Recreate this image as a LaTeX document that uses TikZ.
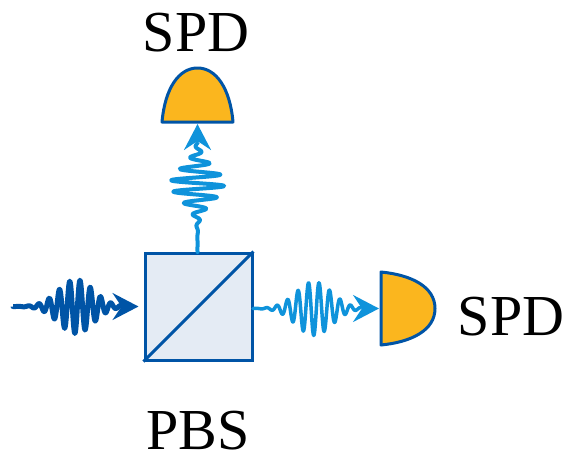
\documentclass[tikz,border=0pt]{standalone}
\usepackage{fontspec}
\setmainfont{Liberation Serif}
\usetikzlibrary{arrows.meta}

\definecolor{darkblue}{HTML}{0054A6}
\definecolor{lightblue}{HTML}{0F93DB}
\definecolor{cubefill}{HTML}{E4EBF4}
\definecolor{detfill}{HTML}{FBB61E}

\tikzset{
	cube/.style={draw=darkblue, fill=cubefill, line width=3pt, minimum size=107pt, inner sep=0pt},
	detector/.style={draw=darkblue, fill=detfill, line width=3pt, line join=round},
	pulse/.style={line width=#1, line join=round},
	head/.style={-{Stealth[inset=9pt, length=26pt, width=27pt]}, line width=3pt},
	label/.style={font=\fontsize{58}{60}\selectfont, inner sep=0pt, anchor=base},
	declare function={packet(\t,\c,\s,\a,\o,\p)=\a*exp(-((\t-\c)/\s)^2/2)*cos(360/\p*(\t-\o));}
}

\begin{document}
\begin{tikzpicture}[x=1pt, y=-1pt]
	\useasboundingbox (0,0) rectangle (569,456);

	\node[cube] (pbs) at (198.5,306.5) {};
	\draw[darkblue, line width=3pt] (pbs.south west) -- (pbs.north east);

	% detectors
	\coordinate (dettop) at (197.5,124);
	\coordinate (detright) at (379,308.5);
	\draw[detector] (162,122) -- (233,122) .. controls (230,88) and (216,68) .. (197.5,68)
		.. controls (179,68) and (165,88) .. (162,122) -- cycle;
	\draw[detector] (381,272) -- (381,345) .. controls (412,342) and (435,330) .. (435,308.5)
		.. controls (435,287) and (412,275) .. (381,272) -- cycle;

	% pulses
	\coordinate (start) at (13,306.5);
	\coordinate (inend) at (124,306.5);
	\coordinate (rightend) at (362,308.5);
	\coordinate (topend) at (197.5,142);

	\draw[darkblue, pulse=5pt] (start) -- plot[domain=13:124, samples=220]
		(\x, {306.5-packet(\x,76,17.5,27,80,10.3)});
	\draw[darkblue, head, shorten >=5pt] (inend) -- (pbs.west);

	\draw[lightblue, pulse=3.5pt] (pbs.east |- detright) -- plot[domain=253:362, samples=220]
		(\x, {308.5-packet(\x,314,18,27,319,10.5)});
	\draw[lightblue, head] (rightend) -- (detright);

	\draw[lightblue, pulse=4pt] (topend |- pbs.north) -- plot[domain=252:142, samples=220]
		({197.5+packet(\x,184,16.5,27,186,11.5)}, \x);
	\draw[lightblue, head] (topend) -- (dettop);

	% labels
	\node[label] (spdtop) at (196,51) {SPD};
	\node[label] (spdright) at (511,335) {SPD};
	\node[label] (pbstext) at (198,449) {PBS};
\end{tikzpicture}
\end{document}
